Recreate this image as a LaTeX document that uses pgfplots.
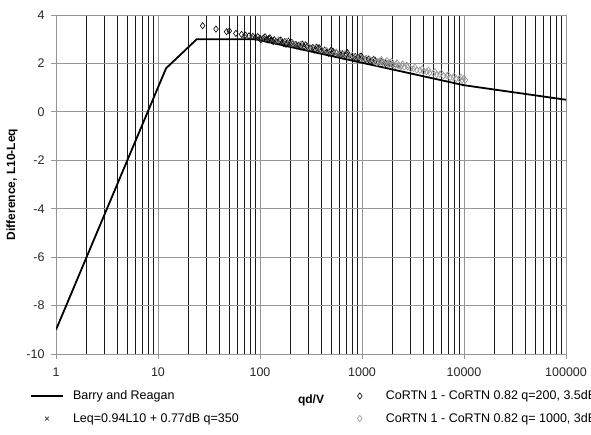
\documentclass[border=0pt]{standalone}
\usepackage{pgfplots}
\pgfplotsset{compat=1.18}
\usepackage{fontspec}
\setmainfont{Liberation Sans}
\definecolor{gridgray}{RGB}{150,150,150}
\definecolor{ptgray}{RGB}{150,150,150}
\definecolor{xgray}{RGB}{60,60,60}
\pgfplotsset{
  linelegend/.style={legend image code/.code={\draw[##1] (0pt,0pt) -- (32pt,0pt);}},
  mklegend/.style={legend image code/.code={\path[draw=none,fill=none] (0pt,0pt) -- (40pt,0pt);\draw[##1] plot coordinates {(16pt,0pt)};}},
}
\begin{document}
\begin{tikzpicture}
\begin{axis}[
  at={(56pt,80pt)}, anchor=south west,
  width=510pt, height=339pt, scale only axis,
  xmode=log, xmin=1, xmax=100000, ymin=-10, ymax=4,
  xtick={1,10,100,1000,10000,100000},
  xticklabels={1,10,100,1000,10000,100000},
  ytick={-10,-8,...,4},
  /pgf/number format/assume math mode=true,
  axis lines*=left,
  axis line style={gridgray, line width=0.8pt},
  tick align=outside, major tick length=5pt, minor tick length=0pt,
  tick style={gridgray, line width=0.8pt},
  grid=both,
  major grid style={gridgray, line width=0.8pt},
  minor grid style={black!90, line width=0.8pt},
  ymajorgrids=true, yminorgrids=false, xminorgrids=true,
  ticklabel style={font=\fontsize{12.5}{14}\selectfont, text=black!85},
  xticklabel style={yshift=-5pt},
  yticklabel style={xshift=-3pt},
  ylabel={\textbf{Difference, L10-Leq}},
  ylabel style={font=\fontsize{12}{14}\selectfont, at={(axis description cs:-0.086,0.5)}, anchor=center},
  xlabel={\textbf{qd/V}},
  xlabel style={font=\fontsize{12}{14}\selectfont, at={(axis description cs:0.5,0)}, anchor=center, yshift=-46pt},
  legend columns=2,
  legend cell align=left,
  legend style={at={(axis description cs:-0.057,-0.096)}, anchor=north west, draw=none, fill=none,
    font=\fontsize{12.5}{14}\selectfont, row sep=8pt,
    /tikz/every even column/.append style={column sep=103pt}},
]
\addplot[black, line width=1.8pt, no markers, linelegend]
  coordinates {(1,-9) (12,1.8) (24,3) (90,3) (10000,1.1) (100000,0.5)};
\addlegendentry{Barry and Reagan}

\addplot[only marks, mark=diamond, mark size=3.1pt, black, mark options={fill=white, line width=0.6pt}, mklegend]
  coordinates {
  (27.4,3.56) (37,3.42) (47,3.31) (50,3.34) (58,3.24) (66,3.20) (72,3.17) (78,3.14)
  (85,3.12) (90,3.07) (95,3.11) (100,3.04) (108,3.05) (115,2.99) (122,3.03) (130,2.95)
  (138,2.98) (145,2.91) (155,2.94) (165,2.87) (175,2.90) (185,2.84) (195,2.84) (210,2.80)
  (225,2.79) (240,2.75) (255,2.74) (270,2.70) (290,2.70) (310,2.64) (330,2.66) (350,2.58)
  (375,2.60) (400,2.54) (430,2.55) (460,2.48) (490,2.51) (520,2.43) (560,2.45) (600,2.39)
  (640,2.40) (690,2.33) (740,2.35) (800,2.28) (860,2.29) (930,2.22) (1000,2.24) (1080,2.17)
  (1160,2.18) (1250,2.11) (1350,2.12) (1450,2.05) (1560,2.07) (1700,2.00) (1850,2.01) (2000,1.94)
  (112,3.10) (160,2.97) (205,2.87) (280,2.77) (380,2.65) (520,2.50) (700,2.40) (950,2.29)
  (120,2.97) (170,2.82) (230,2.72) (320,2.60) (450,2.46) (620,2.35) (880,2.20) (1200,2.08)
  (102,2.98) (135,2.90) (180,2.79) (250,2.68) (340,2.55) (470,2.42) (650,2.30) (900,2.16)
  (125,3.06) (190,2.92) (260,2.80) (360,2.67) (500,2.55) (720,2.44) (980,2.31) (1300,2.17)
  }; 
\addlegendentry{CoRTN 1 - CoRTN 0.82 q=200, 3.5dB}

\addplot[only marks, mark=x, mark size=2.6pt, xgray, mark options={line width=0.7pt}, mklegend]
  coordinates {
  (70,3.12) (82,3.08) (95,3.03) (105,3.00) (118,2.97) (132,2.93) (148,2.89) (165,2.85)
  (185,2.80) (205,2.77) (230,2.72) (260,2.67) (290,2.63) (325,2.58) (365,2.54) (410,2.49)
  (460,2.45) (515,2.41) (580,2.36) (650,2.32) (730,2.28) (820,2.24) (920,2.20) (1030,2.16)
  (1160,2.12) (1300,2.08) (1460,2.04) (1640,2.00) (1840,1.96) (2060,1.92) (2300,1.88)
  (140,2.86) (200,2.74) (300,2.58) (430,2.45) (600,2.32) (850,2.20) (1200,2.07) (1700,1.96)
  };
\addlegendentry{Leq=0.94L10 + 0.77dB q=350}

\addplot[only marks, mark=diamond, mark size=3.1pt, ptgray, mark options={fill=white, line width=0.6pt}, mklegend]
  coordinates {
  (150,2.98) (180,2.92) (210,2.84) (250,2.79) (300,2.69) (350,2.65) (400,2.57) (450,2.54)
  (500,2.49) (560,2.47) (620,2.41) (680,2.40) (740,2.34) (800,2.35) (870,2.27) (950,2.28)
  (1030,2.21) (1100,2.22) (1200,2.15) (1300,2.14) (1400,2.09) (1500,2.10) (1600,2.04) (1700,2.06)
  (1800,2.01) (1900,2.03) (2000,1.97) (2150,1.97) (2300,1.91) (2450,1.92) (2600,1.85) (2800,1.85)
  (3000,1.78) (3200,1.78) (3450,1.73) (3700,1.72) (4000,1.66) (4300,1.66) (4600,1.61) (5000,1.60)
  (5400,1.54) (5800,1.55) (6300,1.49) (6800,1.49) (7300,1.42) (7800,1.42) (8400,1.37) (9000,1.37)
  (9600,1.31) (10300,1.31)
  (1550,2.16) (1750,2.12) (1950,2.09) (2200,2.03) (2500,1.98) (2750,1.93) (1650,1.97) (1850,1.94)
  (2100,1.89) (2400,1.85) (1400,2.01) (3300,1.85) (3900,1.78) (4500,1.72) (5200,1.66) (6000,1.61)
  (7000,1.53) (8000,1.48) (9300,1.43) (10000,1.38)
  };
\addlegendentry{CoRTN 1 - CoRTN 0.82 q= 1000, 3dB}
\end{axis}
\pgfresetboundingbox
\path[use as bounding box] (0,0) rectangle (591pt,434pt);
\end{tikzpicture}
\end{document}
